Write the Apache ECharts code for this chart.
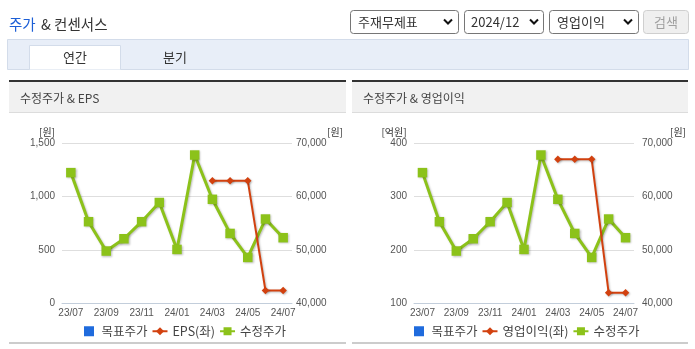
<!DOCTYPE html>
<html><head><meta charset="utf-8">
<script src="https://cdn.jsdelivr.net/npm/echarts@6/dist/echarts.min.js"></script>
<style>html,body{margin:0;padding:0;background:#fff}#c{width:695px;height:349px}</style>
</head><body><div id="c"></div>
<script>
// ---- data ----
const categories = ['23/07','23/08','23/09','23/10','23/11','23/12','24/01','24/02','24/03','24/04','24/05','24/06','24/07'];
const adjPrice = [64500,55300,49800,52100,55300,58900,50100,67800,59500,53100,48600,55800,52300];
const eps = [null,null,null,null,null,null,null,null,1150,1150,1150,120,120];
const opProfit = [null,null,null,null,null,null,null,null,370,370,370,120,120];
const targetPrice = [];
const epsAxis = [0, 1500, 500];
const opAxis = [100, 400, 100];
const priceAxis = [40000, 70000, 10000];

const KR = '"Noto Sans CJK KR", "Noto Sans", sans-serif';
const LAT = '"Liberation Sans", Arial, sans-serif';
const GREEN = '#8cc21a', RED = '#d2410f', BLUE = '#1f6bdd';

const chart = echarts.init(document.getElementById('c'), null, {renderer: 'canvas'});

function fmt(v){ return v.toLocaleString('en-US'); }

function yAx(gridIdx, pos, range, split, margin){
  return {
    type: 'value', gridIndex: gridIdx, position: pos,
    min: range[0], max: range[1], interval: range[2],
    axisLine: {show: false}, axisTick: {show: false},
    splitLine: {show: split, lineStyle: {color: '#dedede', width: 1}},
    axisLabel: {formatter: fmt, color: '#555', fontSize: 10, fontFamily: LAT, margin: margin}
  };
}
function xAx(gridIdx){
  return {
    type: 'category', gridIndex: gridIdx, data: categories, boundaryGap: true,
    axisLine: {lineStyle: {color: '#c3cedb', width: 1}},
    axisTick: {length: 4, lineStyle: {color: '#c3cedb'}, interval: function(i){ return i === 0 || i % 2 === 1; }},
    axisLabel: {interval: 1, color: '#555', fontSize: 10, fontFamily: LAT, margin: 5},
    splitLine: {show: false}
  };
}
const shadow = {shadowColor: 'rgba(0,0,0,0.25)', shadowBlur: 2, shadowOffsetX: 1, shadowOffsetY: 1};
function greenSeries(xi, yi){
  return {name: '수정주가', type: 'line', xAxisIndex: xi, yAxisIndex: yi, data: adjPrice,
    symbol: 'rect', symbolSize: 9.5, z: 2,
    lineStyle: Object.assign({color: GREEN, width: 3}, shadow),
    itemStyle: Object.assign({color: GREEN}, shadow), animation: false};
}
function redSeries(name, xi, yi, d){
  return {name: name, type: 'line', xAxisIndex: xi, yAxisIndex: yi, data: d,
    symbol: 'diamond', symbolSize: 7.5, z: 3,
    lineStyle: Object.assign({color: RED, width: 2}, shadow),
    itemStyle: Object.assign({color: RED}, shadow), animation: false};
}
function targetSeries(xi, yi){
  return {name: '목표주가', type: 'line', xAxisIndex: xi, yAxisIndex: yi, data: targetPrice,
    itemStyle: {color: BLUE}, lineStyle: {color: BLUE}, animation: false};
}
function legend(left, mid){
  return {
    left: left, top: 320, itemWidth: 15, itemHeight: 10, itemGap: 4,
    textStyle: {color: '#444', fontSize: 12.5, fontFamily: KR},
    data: [{name: '목표주가', icon: 'path://M0,0H10V10H0Z', itemStyle: {color: BLUE}}, mid, '수정주가'],
    selectedMode: false
  };
}

// ---- page chrome (graphic) ----
const g = [];
function rect(x,y,w,h,fill,stroke,r){ g.push({type:'rect', shape:{x:x,y:y,width:w,height:h,r:r||0}, style:{fill:fill||'none', stroke:stroke||null, lineWidth:1}, silent:true, z:-10}); }
function text(x,y,t,opt){ g.push({type:'text', x:x, y:y, silent:true, z:-5, style:Object.assign({text:t, fill:'#333', fontSize:13, fontFamily:KR, verticalAlign:'middle', align:'left'}, opt||{})}); }
function line(x1,y1,x2,y2,color,w){ g.push({type:'line', shape:{x1:x1,y1:y1,x2:x2,y2:y2}, style:{stroke:color, lineWidth:w}, silent:true, z:-8}); }
function chevron(cx,cy){ g.push({type:'polyline', shape:{points:[[cx-4,cy-2.5],[cx,cy+1.5],[cx+4,cy-2.5]]}, style:{stroke:'#111', lineWidth:2, fill:'none'}, silent:true, z:-5}); }

// title
text(9, 24, '주가', {fill:'#1d5fd6', fontSize:14.5});
text(41, 24, '& 컨센서스', {fill:'#333', fontSize:14.5});
// selects
rect(350.5, 10.5, 108, 23, '#fff', '#767676', 3); text(358, 22, '주재무제표'); chevron(448, 22);
rect(464.5, 10.5, 79, 23, '#fff', '#767676', 3); text(471, 22, '2024/12'); chevron(534, 22);
rect(549.5, 10.5, 89, 23, '#fff', '#767676', 3); text(557, 22, '영업이익'); chevron(628, 22);
rect(643.5, 10.5, 45, 23, '#efefef', '#cfcfcf', 3); text(666, 22, '검색', {fill:'#a0a0a0', align:'center'});
// tab band
rect(7.5, 39.5, 681, 30, '#e8eef8', '#d3dcea');
rect(29.5, 45.5, 91, 24, '#fff', null);
line(29.5, 45.5, 120.5, 45.5, '#d3dcea', 1);
line(29.5, 45.5, 29.5, 69.5, '#d3dcea', 1);
line(120.5, 45.5, 120.5, 69.5, '#d3dcea', 1);
text(75, 57, '연간', {align:'center'});
text(175, 57, '분기', {align:'center'});
// panels
[[9, 337, '수정주가 & EPS'], [352, 336, '수정주가 & 영업이익']].forEach(function(p){
  rect(p[0], 81, p[1], 31, '#f1f1f1', null);
  line(p[0], 112.5, p[0]+p[1], 112.5, '#dcdcdc', 1);
  line(p[0], 81, p[0]+p[1], 81, '#333', 2);
  line(p[0], 343, p[0]+p[1], 343, '#cccccc', 2);
  text(p[0]+11, 98, p[2], {fontSize:12, fill:'#444'});
});
// axis unit labels
text(47, 132, '[원]', {fontSize:10, align:'center', fill:'#333', fontFamily:KR});
text(335, 132, '[원]', {fontSize:10, align:'center', fill:'#333', fontFamily:KR});
text(394, 132, '[억원]', {fontSize:10, align:'center', fill:'#333', fontFamily:KR});
text(678, 132, '[원]', {fontSize:10, align:'center', fill:'#333', fontFamily:KR});

const option = {
  animation: false,
  backgroundColor: '#fff',
  graphic: g,
  grid: [
    {left: 62, top: 143.3, width: 230, height: 160, containLabel: false},
    {left: 414, top: 143.3, width: 220, height: 160, containLabel: false}
  ],
  xAxis: [xAx(0), xAx(1)],
  yAxis: [
    yAx(0, 'left', epsAxis, true, 7),
    yAx(0, 'right', priceAxis, false, 4),
    yAx(1, 'left', opAxis, true, 7),
    yAx(1, 'right', priceAxis, false, 8)
  ],
  legend: [legend(79, 'EPS(좌)'), legend(409, '영업이익(좌)')],
  tooltip: {show: false},
  series: [
    targetSeries(0, 1),
    redSeries('EPS(좌)', 0, 0, eps),
    greenSeries(0, 1),
    targetSeries(1, 3),
    redSeries('영업이익(좌)', 1, 2, opProfit),
    greenSeries(1, 3)
  ]
};
chart.setOption(option);
</script></body></html>
